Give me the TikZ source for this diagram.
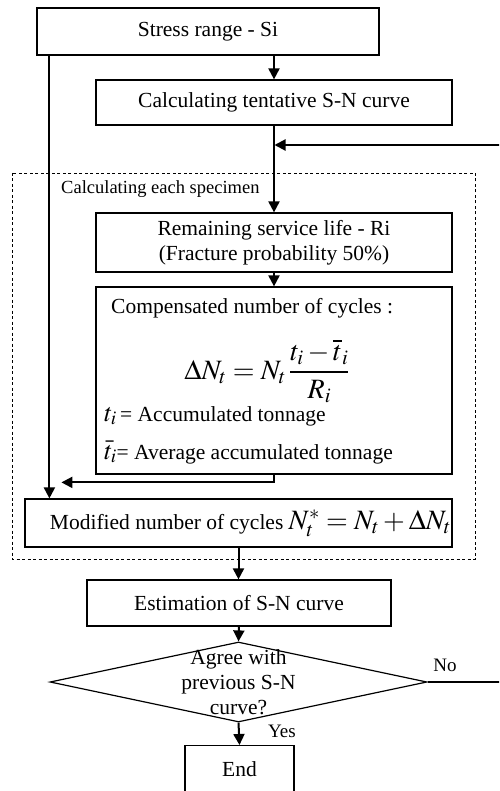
\documentclass[tikz,border=0pt]{standalone}
\usepackage{amsmath}
\usepackage{mathptmx}
\usepackage[no-math]{fontspec}
\setmainfont{Liberation Serif}
\usetikzlibrary{shapes.geometric,arrows.meta}

\begin{document}
\begin{tikzpicture}[x=1pt,y=-1pt,>={Triangle[length=11pt,width=11pt]},
  box/.style={draw,line width=1.2pt,inner sep=0pt,font=\fontsize{21.5}{25}\selectfont},
  decision/.style={draw,diamond,line width=1.2pt,inner sep=0pt,minimum width=377pt,minimum height=80pt},
  arr/.style={->,line width=2pt},
  txt/.style={inner sep=0pt,font=\fontsize{21.5}{25}\selectfont}]
\clip (0,0) rectangle (499,791);
% boxes of the flow
\node[box,minimum width=342pt,minimum height=47pt] (stress) at (208,31.5) {Stress range - Si};
\node[box,minimum width=356pt,minimum height=45pt] (tent) at (274,102.5) {Calculating tentative S-N curve};
\node[box,minimum width=356pt,minimum height=59pt,align=center] (remain) at (274,242.5) {Remaining service life - Ri\\(Fracture probability 50\%)};
\node[box,minimum width=356pt,minimum height=187pt] (comp) at (274,380.5) {};
\node[box,minimum width=427pt,minimum height=48pt] (mod) at (238.5,523) {\hspace*{24pt}Modified number of cycles {\fontsize{28}{30}\selectfont$N_t^{*} = N_t + \Delta N_t$}};
\node[box,minimum width=304pt,minimum height=46pt] (est) at (239,603) {Estimation of S-N curve};
\node[decision] (agree) at (238.5,682) {};
\node[txt,align=center] at (agree) {Agree with\\previous S-N\\curve?};
\node[box,minimum width=109pt,minimum height=48pt,anchor=north] (end) at (239.5,745) {End};
% loop over the specimens
\draw[dashed,line width=0.9pt,dash pattern=on 3pt off 2.5pt] (12,173) rectangle (475,559);
\node[txt,anchor=west,font=\fontsize{18.5}{20}\selectfont] (spec) at (61,189) {Calculating each specimen};
% inside the compensation box
\node[txt,anchor=west] (comptitle) at (111,308) {Compensated number of cycles~:};
\node[txt,font=\fontsize{28}{30}\selectfont] (formula) at (267,371) {$\Delta N_t = N_t\,\dfrac{t_i-\overline{t}_i}{R_i}$};
\node[txt,anchor=base west] (accum) at (104,421) {{\fontsize{26}{30}\selectfont$t_i$}\,= Accumulated tonnage};
\node[txt,anchor=base west] (avg) at (104,459) {{\fontsize{26}{30}\selectfont$\bar{t}_i$}= Average accumulated tonnage};
% connectors
\draw[arr] (stress.south -| tent.north) -- (tent.north);
\draw[arr] (tent.south) -- (remain.north);
\draw[arr] (remain.south) -- (comp.north);
\draw[arr] ([xshift=13pt]stress.south west) -- ([xshift=25pt]mod.north west);
\draw[arr] (comp.south) |- ([xshift=37pt,yshift=16pt]mod.north west);
\draw[arr] (mod.south) -- (mod.south |- est.north);
\draw[arr] (est.south) -- (agree.north);
\draw[arr] (agree.south) -- (end.north);
\coordinate (back) at (515,145);
\draw[arr,shorten >=0.5pt] (agree.east) -| (back) -- (back -| tent.south);
\node[txt,font=\fontsize{19}{20}\selectfont] (no) at (445,665) {No};
\node[txt,font=\fontsize{19}{20}\selectfont] (yes) at (282,731) {Yes};
\end{tikzpicture}
\end{document}
